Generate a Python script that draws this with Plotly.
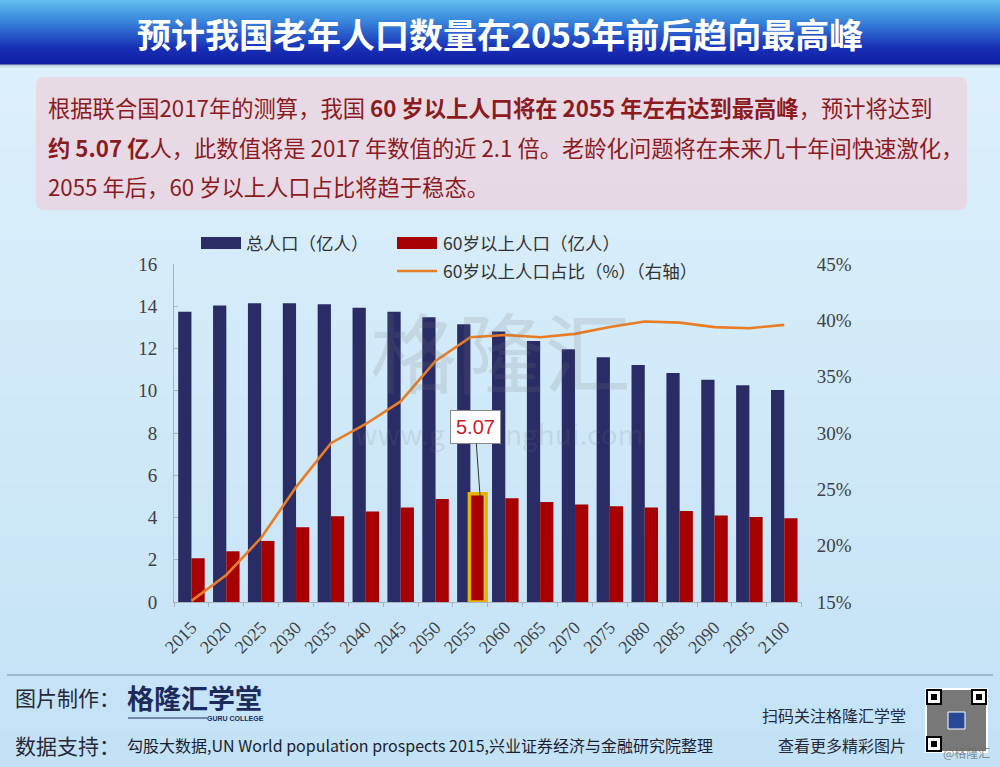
import plotly.graph_objects as go

# ---------------- data ----------------
years = ["2015", "2020", "2025", "2030", "2035", "2040", "2045", "2050", "2055",
         "2060", "2065", "2070", "2075", "2080", "2085", "2090", "2095", "2100"]
total_pop = [13.74, 14.04, 14.14, 14.14, 14.09, 13.93, 13.74, 13.48, 13.15,
             12.80, 12.36, 11.96, 11.58, 11.22, 10.84, 10.52, 10.26, 10.04]
pop_60 = [2.07, 2.40, 2.89, 3.54, 4.06, 4.28, 4.47, 4.88, 5.07,
          4.91, 4.73, 4.61, 4.53, 4.47, 4.31, 4.10, 4.02, 3.96]
share_60 = [15.1, 17.4, 20.7, 25.2, 29.1, 30.8, 32.8, 36.4, 38.5,
            38.7, 38.5, 38.8, 39.4, 39.9, 39.8, 39.4, 39.3, 39.6]
left_ticks = [0, 2, 4, 6, 8, 10, 12, 14, 16]
right_ticks = [15, 20, 25, 30, 35, 40, 45]
right_tick_text = ["15%", "20%", "25%", "30%", "35%", "40%", "45%"]

name_total = "总人口（亿人）"
name_60 = "60岁以上人口（亿人）"
name_share = "60岁以上人口占比（%）（右轴）"

title_text = "预计我国老年人口数量在2055年前后趋向最高峰"
para_lines = [
    "根据联合国2017年的测算，我国 <b>60 岁以上人口将在 2055 年左右达到最高峰</b>，预计将达到",
    "<b>约 5.07 亿</b>人，此数值将是 2017 年数值的近 2.1 倍。老龄化问题将在未来几十年间快速激化，",
    "2055 年后，60 岁以上人口占比将趋于稳态。",
]
footer_make = "图片制作："
footer_data = "数据支持："
footer_source = "勾股大数据,UN World population prospects 2015,兴业证券经济与金融研究院整理"
footer_right1 = "扫码关注格隆汇学堂"
footer_right2 = "查看更多精彩图片"
logo_text = "格隆汇学堂"
logo_sub = "GURU COLLEGE"
watermark_big = "格隆汇"
watermark_url_left = "www.g"
watermark_url_right = "nghui.com"

W, H = 1000, 767
CJK = "Noto Sans CJK SC"
SERIF = "Liberation Serif"


def px(x):
    return x / W


def py(y):
    return 1 - y / H


def lerp(c1, c2, t):
    return tuple(int(round(a + (b - a) * t)) for a, b in zip(c1, c2))


def rgb(c):
    return "rgb(%d,%d,%d)" % c


def prect(x0, y0, x1, y1, **kw):
    d = dict(type="rect", xref="paper", yref="paper", x0=px(x0), x1=px(x1),
             y0=py(y1), y1=py(y0))
    d.update(kw)
    return d


shapes = []

# background gradient
n = 40
top_c, bot_c = (221, 240, 251), (195, 226, 246)
y_start = 60
for i in range(n):
    y0 = y_start + (H - y_start) * i / n
    y1 = y_start + (H - y_start) * (i + 1) / n + 1
    shapes.append(prect(0, y0, W, y1, line=dict(width=0),
                        fillcolor=rgb(lerp(top_c, bot_c, i / (n - 1))), layer="below"))

# title band gradient
stops = [(0.0, (96, 188, 236)), (0.3, (58, 138, 222)), (0.75, (24, 48, 182)), (1.0, (16, 30, 164))]
nb = 32
band_h = 64
for i in range(nb):
    t = i / (nb - 1)
    col = stops[-1][1]
    for (t0, c0), (t1, c1) in zip(stops[:-1], stops[1:]):
        if t0 <= t <= t1:
            col = lerp(c0, c1, (t - t0) / (t1 - t0))
            break
    y0 = band_h * i / nb
    y1 = band_h * (i + 1) / nb + 0.6
    shapes.append(prect(0, y0, W, y1, line=dict(width=0), fillcolor=rgb(col), layer="below"))
for i, a in enumerate([0.35, 0.22, 0.12, 0.05]):
    shapes.append(prect(0, band_h + i, W, band_h + i + 1, line=dict(width=0),
                        fillcolor="rgba(70,80,110,%.2f)" % a, layer="below"))

# text box (rounded)
bx0, bx1, by0, by1, r = 36, 967, 77, 210, 8
pts = [(bx0 + r, by0), (bx1 - r, by0), (bx1, by0), (bx1, by0 + r), (bx1, by1 - r), (bx1, by1),
       (bx1 - r, by1), (bx0 + r, by1), (bx0, by1), (bx0, by1 - r), (bx0, by0 + r), (bx0, by0),
       (bx0 + r, by0)]
P = [(px(a), py(b)) for a, b in pts]
path = ("M {0[0]},{0[1]} L {1[0]},{1[1]} Q {2[0]},{2[1]} {3[0]},{3[1]} L {4[0]},{4[1]} "
        "Q {5[0]},{5[1]} {6[0]},{6[1]} L {7[0]},{7[1]} Q {8[0]},{8[1]} {9[0]},{9[1]} "
        "L {10[0]},{10[1]} Q {11[0]},{11[1]} {12[0]},{12[1]} Z").format(*P)
shapes.append(dict(type="path", xref="paper", yref="paper", path=path,
                   fillcolor="rgba(242,200,212,0.55)", line=dict(width=0), layer="below"))

# footer line and logo underline
shapes.append(dict(type="line", xref="paper", yref="paper", x0=px(7), x1=px(993),
                   y0=py(675), y1=py(675), line=dict(color="rgb(120,136,170)", width=1.2)))
shapes.append(dict(type="line", xref="paper", yref="paper", x0=px(128), x1=px(207),
                   y0=py(718), y1=py(718), line=dict(color="#1d2a5c", width=1)))

# QR code approximation
qx0, qx1, qy0, qy1 = 925, 988, 688, 753
shapes.append(prect(qx0, qy0, qx1, qy1, fillcolor="white", line=dict(width=0)))
shapes.append(prect(qx0 + 2, qy0 + 2, qx1 - 2, qy1 - 2, fillcolor="rgb(120,120,120)", line=dict(width=0)))
for (fx, fy) in [(qx0 + 2, qy0 + 2), (qx1 - 16, qy0 + 2), (qx0 + 2, qy1 - 16)]:
    shapes.append(prect(fx, fy, fx + 14, fy + 14, fillcolor="white", line=dict(color="black", width=2)))
    shapes.append(prect(fx + 4, fy + 4, fx + 10, fy + 10, fillcolor="black", line=dict(width=0)))
shapes.append(prect(948, 712, 965, 729, fillcolor="rgb(40,70,150)", line=dict(color="white", width=1)))

# manual legend swatches
shapes.append(prect(201, 237, 241, 249, fillcolor="rgb(42,44,102)", line=dict(width=0)))
shapes.append(prect(397, 237, 437, 249, fillcolor="rgb(166,0,0)", line=dict(width=0)))
shapes.append(dict(type="line", xref="paper", yref="paper", x0=px(397), x1=px(437),
                   y0=py(271), y1=py(271), line=dict(color="rgb(232,125,38)", width=2.6)))

# highlight rectangle around peak 60+ bar
peak = pop_60.index(max(pop_60))
shapes.append(dict(type="rect", xref="x", yref="y", x0=peak - 0.03, x1=peak + 0.45,
                   y0=0, y1=pop_60[peak] + 0.05,
                   line=dict(color="rgb(232,178,0)", width=3.5), fillcolor="rgba(0,0,0,0)"))

# ---------------- traces ----------------
fig = go.Figure()
fig.add_trace(go.Bar(x=years, y=total_pop, name=name_total,
                     marker=dict(color="rgb(42,44,102)", line=dict(width=0))))
fig.add_trace(go.Bar(x=years, y=pop_60, name=name_60,
                     marker=dict(color="rgb(166,0,0)", line=dict(width=0))))
fig.add_trace(go.Scatter(x=years, y=share_60, name=name_share, yaxis="y2", mode="lines",
                         line=dict(color="rgb(232,125,38)", width=2.6)))

# ---------------- annotations ----------------
ann = []


def text(t, x, y, size, color, xanchor="left", family=CJK):
    ann.append(dict(text=t, xref="paper", yref="paper", x=px(x), y=py(y),
                    xanchor=xanchor, yanchor="middle", showarrow=False,
                    font=dict(family=family, size=size, color=color)))


text("<b>" + title_text + "</b>", 500, 33, 34, "white", xanchor="center")
for line, yy in zip(para_lines, [107, 147, 186]):
    text(line, 46, yy, 22.3, "rgb(140,26,30)")

# watermark
text(watermark_big, 500, 349, 87, "rgba(120,120,120,0.17)", xanchor="center")
text(watermark_url_left, 447, 433, 28, "rgba(120,120,120,0.17)", xanchor="right")
text(watermark_url_right, 503, 433, 28, "rgba(120,120,120,0.17)", xanchor="left")

# legend texts
text(name_total, 244, 243, 17.5, "rgb(50,50,50)")
text(name_60, 441, 243, 17.5, "rgb(50,50,50)")
text(name_share, 441, 270, 17.5, "rgb(50,50,50)")

# callout
ann.append(dict(text="%.2f" % pop_60[peak], xref="x", yref="y", x=peak + 0.28, y=pop_60[peak] - 0.15,
                ax=-5, ay=-71, showarrow=True, arrowhead=0, arrowwidth=1, arrowcolor="#333",
                bgcolor="white", bordercolor="#8a8a8a", borderwidth=1, borderpad=5,
                font=dict(family="Liberation Sans", size=20, color="rgb(200,32,42)")))

# footer
text(footer_make, 13, 697, 21, "rgb(40,40,55)")
text(footer_data, 13, 745, 21, "rgb(40,40,55)")
text("<b>" + logo_text + "</b>", 125, 697, 27, "#1d2a5c")
text("<b>" + logo_sub + "</b>", 266, 718, 7, "#1d2a5c", xanchor="right", family="Liberation Sans")
text(footer_source, 125, 745, 16, "rgb(30,30,45)")
text(footer_right1, 908, 715, 16, "rgb(40,40,55)", xanchor="right")
text(footer_right2, 908, 745, 16, "rgb(40,40,55)", xanchor="right")
text("@格隆汇", 992, 752, 12, "rgba(110,110,110,0.8)", xanchor="right")

fig.update_layout(
    autosize=True, margin=dict(l=0, r=0, t=0, b=0, pad=0, autoexpand=False),
    paper_bgcolor="rgb(214,236,249)", plot_bgcolor="rgba(0,0,0,0)",
    barmode="group", bargap=0.24, bargroupgap=0,
    shapes=shapes, annotations=ann,
    showlegend=False,
    xaxis=dict(domain=[px(174), px(801.7)], type="category", tickangle=-45, automargin=False,
               tickfont=dict(family=SERIF, size=18, color="rgb(64,64,64)"),
               showline=True, linecolor="rgb(170,178,190)", linewidth=1,
               ticks="outside", tickson="boundaries", ticklen=4, tickcolor="rgb(170,178,190)",
               ticklabelstandoff=7,
               showgrid=False, zeroline=False, fixedrange=True),
    yaxis=dict(domain=[py(602), py(264)], range=[0, 16], tickvals=left_ticks, automargin=False,
               tickfont=dict(family=SERIF, size=19, color="rgb(64,64,64)"),
               showline=True, linecolor="rgb(170,178,190)", linewidth=1,
               ticks="inside", ticklen=4, tickcolor="rgb(170,178,190)",
               ticklabelstandoff=12,
               showgrid=False, zeroline=False, fixedrange=True),
    yaxis2=dict(overlaying="y", side="right", range=[15, 45], tickmode="array",
                tickvals=right_ticks, ticktext=right_tick_text, anchor="x", automargin=False,
                tickfont=dict(family=SERIF, size=19, color="rgb(64,64,64)"),
                showline=False, showgrid=False, zeroline=False, ticks="",
                ticklabelstandoff=14, fixedrange=True),
)

# the figure fills the whole 1000x767 page, independent of the default body margin
fig.write_html("out.html", config=dict(displayModeBar=False, responsive=False),
               default_width="%dpx; position:absolute; left:0; top:0" % W,
               default_height="%dpx" % H)
